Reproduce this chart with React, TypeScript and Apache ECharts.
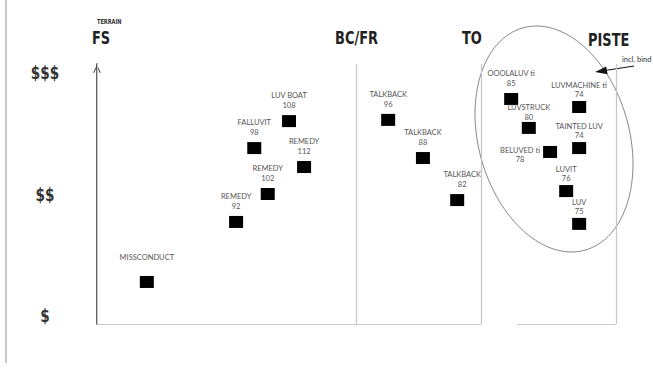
import React, { useEffect, useRef } from 'react';
import * as echarts from 'echarts';

// ---- data ----
const skiNames = [
  'MISSCONDUCT', 'REMEDY', 'REMEDY', 'FALLUVIT', 'LUV BOAT', 'REMEDY',
  'TALKBACK', 'TALKBACK', 'TALKBACK',
  'OOOLALUV ti', 'LUVSTRUCK', 'LUVMACHINE ti', 'TAINTED LUV', 'BELUVED ti', 'LUVIT', 'LUV',
];
const waistWidths = [null, 92, 102, 98, 108, 112, 96, 88, 82, 85, 80, 74, 74, 78, 76, 75];
const terrainPos = [9.6, 26.8, 32.9, 30.3, 37.0, 39.9, 56.1, 62.8, 69.4, 79.8, 83.2, 92.9, 92.9, 87.3, 90.4, 92.9];
const pricePos = [14.3, 39.0, 50.5, 69.4, 80.5, 61.6, 81.0, 65.3, 48.0, 89.6, 77.7, 86.3, 69.4, 67.8, 51.7, 38.2];
const priceTiers = ['$', '$$', '$$$'];
const priceTierValues = [0, 50, 100];
const terrainLabels = ['FS', 'BC/FR', 'TO', 'PISTE'];
const terrainBounds = [0, 50, 74, 100];
const terrainCaption = 'TERRAIN';
const bindNote = 'incl. bind';

// label placement tweaks (style only)
const labelTweaks: Record<number, any> = {
  0: { distance: 14 },
  8: { offset: [5, 0] },
  10: { distance: 0 },
  11: { distance: 1.5 },
  12: { distance: 1.5 },
  13: { position: [-23, 9], align: 'center', verticalAlign: 'middle' },
  14: { distance: 1.5 },
  15: { distance: 1.5 },
};

const headFont = '"DejaVu Sans", "Liberation Sans", sans-serif';

export default function App() {
  const ref = useRef<HTMLDivElement>(null);
  useEffect(() => {
    document.body.style.margin = '0';
    if (!ref.current) return;
    const chart = echarts.init(ref.current, null, { renderer: 'svg' });

    const points = skiNames.map((n, i) => ({
      name: n,
      value: [terrainPos[i], pricePos[i]],
      price: waistWidths[i],
      label: labelTweaks[i] ? { ...labelTweaks[i] } : undefined,
    }));

    const yMin = -3;
    const yMax = 104;

    chart.setOption({
      animation: false,
      backgroundColor: '#ffffff',
      grid: { left: 97, right: 37, top: 64, bottom: 59 },
      xAxis: { type: 'value', min: 0, max: 100, show: false },
      yAxis: {
        type: 'value',
        min: yMin,
        max: yMax,
        offset: 17,
        splitLine: { show: false },
        axisTick: { show: false },
        axisLabel: { show: false },
        axisLine: {
          show: true,
          lineStyle: { color: '#222', width: 1.5 },
          symbol: ['none', 'path://M0,10 L5,0 L10,10 L9,10.8 L5,2.2 L1,10.8 Z'],
          symbolSize: [10, 8],
          symbolOffset: [0, -5],
        },
      },
      series: [
        {
          type: 'scatter',
          symbol: 'rect',
          symbolSize: [14, 12],
          itemStyle: { color: '#000', opacity: 1 },
          data: points,
          label: {
            show: true,
            position: 'top',
            distance: 5,
            formatter: (p: any) => (p.data.price != null ? `${p.data.name}\n${p.data.price}` : p.data.name),
            fontFamily: 'Lato, "Open Sans", sans-serif',
            fontSize: 7.5,
            lineHeight: 9.5,
            color: '#555',
          },
          emphasis: { disabled: true },
          markLine: {
            silent: true,
            symbol: ['none', 'none'],
            label: { show: false },
            lineStyle: { type: 'solid', color: '#c6c6c6', width: 1.2 },
            emphasis: { disabled: true },
            data: [
              ...terrainBounds.map((x) => [{ coord: [x, yMin] }, { coord: [x, yMax] }]),
              [{ coord: [terrainBounds[0], yMin] }, { coord: [terrainBounds[2], yMin] }],
              [{ coord: [81, yMin] }, { coord: [terrainBounds[3], yMin] }],
            ],
          },
        },
      ],
    });

    const head = (text: string, x: number, y: number, align: string, size = 18, sx = 0.72) => ({
      type: 'text', x, y, scaleX: sx,
      style: { text, fontFamily: headFont, fontWeight: 'bold', fontSize: size, fill: '#222', align, verticalAlign: 'middle' },
    });

    const tierTexts = priceTiers.map((t, i) => {
      const py = chart.convertToPixel({ yAxisIndex: 0 }, priceTierValues[i]) as number;
      return {
        type: 'text', x: 45, y: py, scaleX: 0.8,
        style: { text: t, fontFamily: headFont, fontWeight: 'bold', fontSize: 17, fill: '#333', align: 'center', verticalAlign: 'middle' },
      };
    });

    chart.setOption({
      graphic: [
        { type: 'line', shape: { x1: 6, y1: 0, x2: 6, y2: 363 }, style: { stroke: '#b5b5b5', lineWidth: 1.5 } },
        {
          type: 'text', x: 97, y: 21, scaleX: 0.72,
          style: { text: terrainCaption, fontFamily: headFont, fontWeight: 'bold', fontSize: 7, fill: '#333', align: 'left', verticalAlign: 'middle' },
        },
        head(terrainLabels[0], 92, 38, 'left'),
        head(terrainLabels[1], 356.5, 38, 'center'),
        head(terrainLabels[2], 462, 38, 'left'),
        head(terrainLabels[3], 588, 40, 'left'),
        ...tierTexts,
        {
          type: 'ellipse', x: 554, y: 139, rotation: 0.272,
          shape: { cx: 0, cy: 0, rx: 75.4, ry: 115.4 },
          style: { fill: 'none', stroke: '#777', lineWidth: 0.8 },
        },
        {
          type: 'text', x: 622, y: 59,
          style: { text: bindNote, fontFamily: 'Lato, sans-serif', fontSize: 7.5, fill: '#333', align: 'left', verticalAlign: 'middle' },
        },
        { type: 'line', shape: { x1: 634, y1: 66, x2: 605, y2: 70.5 }, style: { stroke: '#111', lineWidth: 1 } },
        { type: 'polygon', shape: { points: [[595, 72], [607.6, 74.2], [606.2, 66.4]] }, style: { fill: '#111' } },
      ],
    });
    return () => chart.dispose();
  }, []);
  return <div ref={ref} style={{ width: 653, height: 383 }} />;
}
